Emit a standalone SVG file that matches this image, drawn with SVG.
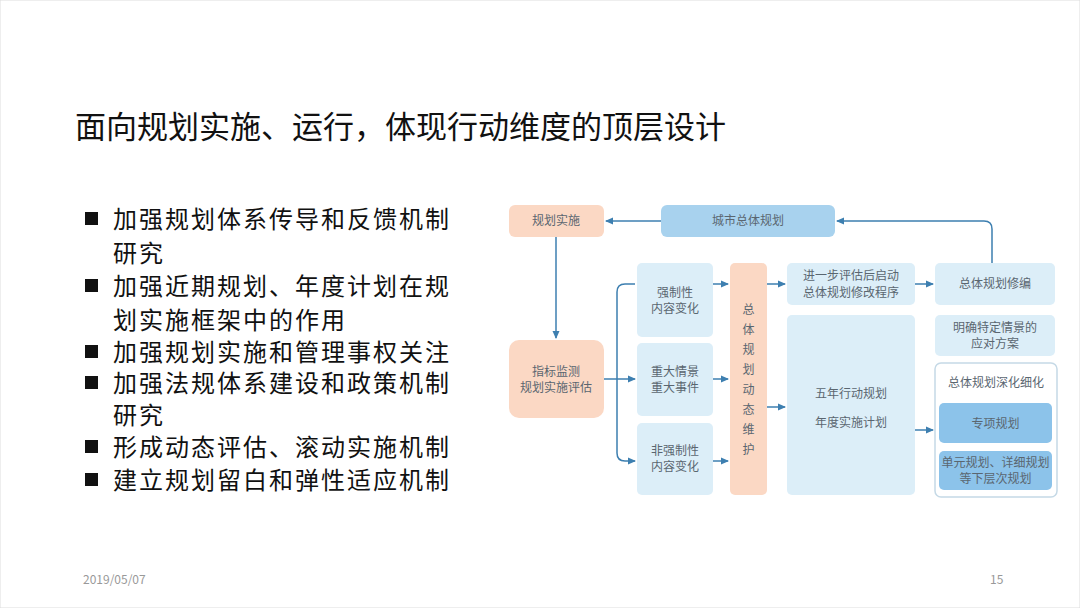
<svg xmlns="http://www.w3.org/2000/svg" width="1080" height="608" viewBox="0 0 1080 608">
<defs>
<marker id="ah" markerWidth="8" markerHeight="8" refX="7" refY="4" orient="auto" markerUnits="userSpaceOnUse"><path d="M0,0.5 L8,4 L0,7.5 z" fill="#3d7fb0"/></marker>
<style>
text{font-family:"Noto Sans CJK SC","Liberation Sans",sans-serif}
.t{font-size:12px;fill:#5a6670;text-anchor:middle}
.lb{fill:#dceef8}
.or{fill:#fbd8c4}
.mb{fill:#a8d2ee}
.db{fill:#8cc3ea}
.c{stroke:#3d7fb0;stroke-width:1.5;fill:none;marker-end:url(#ah)}
.b{font-size:24px;letter-spacing:2px;fill:#111}
</style>
</defs>
<rect x="0" y="0" width="1080" height="608" fill="#fff" stroke="#ddd"/>
<text x="75" y="138" font-size="31" fill="#111">面向规划实施、运行，体现行动维度的顶层设计</text>
<g id="bullets">
<g fill="#111"><rect x="85" y="212" width="13" height="13"/><rect x="85" y="279" width="13" height="13"/><rect x="85" y="345" width="13" height="13"/><rect x="85" y="376" width="13" height="13"/><rect x="85" y="440" width="13" height="13"/><rect x="85" y="473" width="13" height="13"/></g>
<text class="b" x="113" y="228">加强规划体系传导和反馈机制</text>
<text class="b" x="113" y="262">研究</text>
<text class="b" x="113" y="295">加强近期规划、年度计划在规</text>
<text class="b" x="113" y="329">划实施框架中的作用</text>
<text class="b" x="113" y="361">加强规划实施和管理事权关注</text>
<text class="b" x="113" y="392">加强法规体系建设和政策机制</text>
<text class="b" x="113" y="424">研究</text>
<text class="b" x="113" y="456">形成动态评估、滚动实施机制</text>
<text class="b" x="113" y="489">建立规划留白和弹性适应机制</text>
</g>
<g id="connectors">
<path class="c" d="M661,221 H606"/>
<path class="c" d="M992,263 V229 Q992,221 984,221 H837"/>
<path class="c" d="M556,237 V338"/>
<path class="c" d="M604,379 H635"/>
<path class="c" d="M635,284 H625 Q617,284 617,292 V453 Q617,461 625,461 H635"/>
<path class="c" d="M713,284 H728"/>
<path class="c" d="M713,379 H728"/>
<path class="c" d="M713,461 H728"/>
<path class="c" d="M767,284 H785"/>
<path class="c" d="M767,407 H785"/>
<path class="c" d="M915,284 H933"/>
<path class="c" d="M915,430 H933"/>
</g>
<g id="n1"><rect class="or" x="509" y="205" width="95" height="32" rx="6"/><text class="t" x="556" y="225">规划实施</text></g>
<g id="n2"><rect class="mb" x="661" y="205" width="174" height="32" rx="6"/><text class="t" x="748" y="225">城市总体规划</text></g>
<g id="n3"><rect class="or" x="509" y="340" width="95" height="78" rx="10"/><text class="t" x="556" y="376">指标监测</text><text class="t" x="556" y="392">规划实施评估</text></g>
<g id="n4"><rect class="lb" x="637" y="263" width="76" height="74" rx="5"/><text class="t" x="675" y="297">强制性</text><text class="t" x="675" y="313">内容变化</text></g>
<g id="n5"><rect class="lb" x="637" y="343" width="76" height="73" rx="5"/><text class="t" x="675" y="376">重大情景</text><text class="t" x="675" y="392">重大事件</text></g>
<g id="n6"><rect class="lb" x="637" y="423" width="76" height="72" rx="5"/><text class="t" x="675" y="455">非强制性</text><text class="t" x="675" y="471">内容变化</text></g>
<g id="n7"><rect class="or" x="730" y="263" width="37" height="232" rx="5"/>
<text class="t" x="748.5" y="314">总</text><text class="t" x="748.5" y="334">体</text><text class="t" x="748.5" y="354">规</text><text class="t" x="748.5" y="374">划</text><text class="t" x="748.5" y="394">动</text><text class="t" x="748.5" y="414">态</text><text class="t" x="748.5" y="434">维</text><text class="t" x="748.5" y="454">护</text></g>
<g id="n8"><rect class="lb" x="787" y="263" width="128" height="42" rx="5"/><text class="t" x="851" y="280">进一步评估后启动</text><text class="t" x="851" y="297">总体规划修改程序</text></g>
<g id="n9"><rect class="lb" x="787" y="315" width="128" height="180" rx="5"/><text class="t" x="851" y="398">五年行动规划</text><text class="t" x="851" y="427">年度实施计划</text></g>
<g id="n10"><rect class="lb" x="935" y="263" width="120" height="42" rx="5"/><text class="t" x="995" y="288">总体规划修编</text></g>
<g id="n11"><rect class="lb" x="935" y="315" width="120" height="41" rx="5"/><text class="t" x="995" y="332">明确特定情景的</text><text class="t" x="995" y="348">应对方案</text></g>
<g id="n12"><rect x="935" y="363" width="122" height="134" rx="6" fill="#fff" stroke="#c5d9e6" stroke-width="1.5"/><text class="t" x="996" y="387">总体规划深化细化</text>
<rect class="db" x="939" y="403" width="113" height="40" rx="5"/><text class="t" x="995.5" y="428">专项规划</text>
<rect class="db" x="939" y="451" width="113" height="39" rx="5"/><text class="t" x="995.5" y="467">单元规划、详细规划</text><text class="t" x="995.5" y="483">等下层次规划</text></g>
<text x="83" y="584" font-size="12" fill="#999">2019/05/07</text>
<text x="990" y="584" font-size="12" fill="#999">15</text>
</svg>
